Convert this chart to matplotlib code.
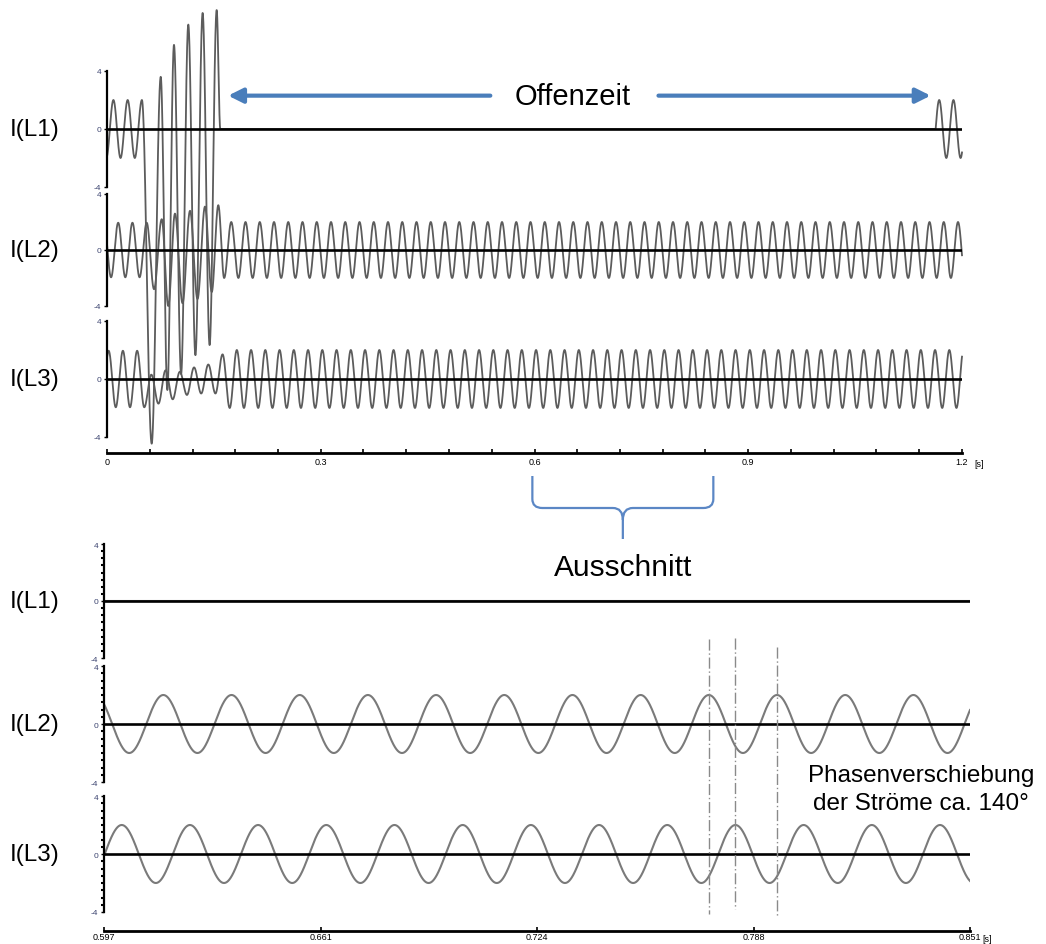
import numpy as np
import matplotlib
matplotlib.use("Agg")
import matplotlib.pyplot as plt
import matplotlib.transforms as mtransforms
from matplotlib.path import Path
from matplotlib.patches import PathPatch

plt.rcParams['font.family'] = ['Liberation Sans', 'DejaVu Sans']

# ---- data ----
F_NET = 50.0  # Hz
channels = ['I(L1)', 'I(L2)', 'I(L3)']

# overview and excerpt time ranges [s]
top_range = (0.0, 1.2)
top_ticks = [0.0, 0.3, 0.6, 0.9, 1.2]
top_ticklabels = ['0', '0.3', '0.6', '0.9', '1.2']
zoom_range = (0.597, 0.851)
zoom_ticklabels = ['0.597', '0.661', '0.724', '0.788', '0.851']

# steady state before the fault: amplitude, time of a positive peak
amp_pre = [2.0, 1.95, 1.95]
peak_pre = [0.009, 0.0157, 0.0023]
# steady state after the fault
amp_post = [2.0, 2.0, 2.0]
peak_post = [0.008, 0.0144, 0.0022]

# fault window: extrema (time [s], value) read from the overview
l1_ext_t = [0.049, 0.0627, 0.0754, 0.0847, 0.0940, 0.1040, 0.1141, 0.1241,
            0.1342, 0.1440, 0.1539, 0.159]
l1_ext_v = [2.0, -21.7, 3.6, -18.0, 5.8, -16.9, 7.2, -15.6, 8.0, -14.9, 8.2, 0.0]
l2_ext_t = [0.0557, 0.0660, 0.0768, 0.0860, 0.0954, 0.1060, 0.1165, 0.1270,
            0.1375, 0.1470, 0.1562, 0.1644, 0.1744]
l2_ext_v = [1.95, -2.8, 2.2, -4.0, 2.6, -3.8, 2.8, -3.5, 3.1, -3.0, 3.2, -2.0, 2.0]
l3_ext_t = [0.0523, 0.0622, 0.0722, 0.0822, 0.0922, 0.1022, 0.1122, 0.1222,
            0.1322, 0.1422, 0.1522, 0.1622, 0.1722]
l3_ext_v = [-1.95, 0.3, -1.7, 0.6, -1.4, 0.5, -1.1, 0.8, -1.0, 1.0, -1.0, 1.7, -2.0]

# L1 open time (Offenzeit)
l1_on = 1.163

# cursor lines in the excerpt (peaks L2, L3, L2)
cursor_t = [0.7744, 0.7822, 0.7944]

ext_t = [l1_ext_t, l2_ext_t, l3_ext_t]
ext_v = [l1_ext_v, l2_ext_v, l3_ext_v]


def half_cos(t, et, ev):
    et = np.asarray(et)
    ev = np.asarray(ev)
    i = np.clip(np.searchsorted(et, t) - 1, 0, len(et) - 2)
    u = np.clip((t - et[i]) / (et[i + 1] - et[i]), 0, 1)
    return ev[i] + (ev[i + 1] - ev[i]) * (1 - np.cos(np.pi * u)) / 2


def channel(t, k):
    pre = amp_pre[k] * np.cos(2 * np.pi * F_NET * (t - peak_pre[k]))
    post = amp_post[k] * np.cos(2 * np.pi * F_NET * (t - peak_post[k]))
    et = ext_t[k]
    y = np.where(t < et[0], pre,
                 np.where(t > et[-1], post, half_cos(t, et, ext_v[k])))
    if k == 0:
        y = np.where((t > et[-1]) & (t < l1_on), 0.0, y)
    return y


# ---- figure ----
W, H = 1046, 945
fig = plt.figure(figsize=(W / 100, H / 100), dpi=100)


def px_axes(x0, x1, ytop, ybot):
    return fig.add_axes([x0 / W, 1 - ybot / H, (x1 - x0) / W, (ybot - ytop) / H])


def style_channel(ax, xlim, minor=False):
    ax.set_xlim(xlim)
    ax.set_ylim(-4, 4)
    for s in ['top', 'right', 'bottom']:
        ax.spines[s].set_visible(False)
    ax.spines['left'].set_linewidth(1.6)
    ax.set_xticks([])
    ax.set_yticks([-4, 0, 4])
    ax.set_yticklabels(['-4', '0', '4'])
    ax.tick_params(axis='y', length=2, width=1, pad=2, labelsize=6,
                   labelcolor='#3c4470')
    if minor:
        ax.set_yticks(np.arange(-4, 4.01, 0.5), minor=True)
        ax.tick_params(axis='y', which='minor', length=2, width=1.5)
    ax.axhline(0, color='black', lw=1.9, zorder=3)
    ax.patch.set_visible(False)


def style_time(ax, xlim, ticks, labels, minor=None, pad=3):
    ax.set_xlim(xlim)
    ax.set_ylim(0, 1)
    for s in ['top', 'right', 'left']:
        ax.spines[s].set_visible(False)
    ax.spines['bottom'].set_linewidth(2)
    ax.set_yticks([])
    ax.set_xticks(ticks)
    ax.set_xticklabels(labels)
    if minor is not None:
        ax.set_xticks(minor, minor=True)
    ax.tick_params(axis='x', which='both', direction='in', length=3, width=1.2,
                   labelsize=6.5, pad=pad)
    ax.patch.set_visible(False)
    ax.annotate('[s]', xy=(1, 0), xycoords='axes fraction', xytext=(9, -pad - 1),
                textcoords='offset points', fontsize=6.5, va='top', ha='left')


# overview
t_top = np.linspace(top_range[0], top_range[1], 24001)
top_rows = [(72, 188), (195, 307), (322, 438)]
top_axes = []
for k, (yt, yb) in enumerate(top_rows):
    ax = px_axes(107, 962, yt, yb)
    style_channel(ax, top_range)
    ax.plot(t_top, channel(t_top, k), color='#5c5c5c', lw=1.3, clip_on=False,
            zorder=2)
    fig.text(10 / W, 1 - (yt + yb) / 2 / H, channels[k], fontsize=17.5,
             va='center', ha='left')
    top_axes.append(ax)

ax_tt = px_axes(107, 962, 440, 454)
style_time(ax_tt, top_range, top_ticks, top_ticklabels,
           minor=np.arange(0, 1.2001, 0.06))

# Offenzeit arrows
ax1 = top_axes[0]
arrow_kw = dict(arrowstyle='-|>', lw=3, color='#4a7ebb', mutation_scale=22,
                shrinkA=0, shrinkB=0)
ax1.annotate('', xy=(0.170, 2.3), xytext=(0.538, 2.3), arrowprops=arrow_kw,
             annotation_clip=False)
ax1.annotate('', xy=(1.156, 2.3), xytext=(0.774, 2.3), arrowprops=arrow_kw,
             annotation_clip=False)
ax1.text(0.653, 2.3, 'Offenzeit', fontsize=21, ha='center', va='center')

# brace marking the excerpt
tr = mtransforms.blended_transform_factory(ax_tt.transData, fig.transFigure)
fy = lambda ypx: 1 - ypx / H
xl, xr = zoom_range
xc = (xl + xr) / 2
r = 0.014
verts = [(xl, fy(477)), (xl, fy(500)), (xl, fy(509)), (xl + r, fy(509)),
         (xc - r, fy(509)), (xc, fy(509)), (xc, fy(521)), (xc, fy(540)),
         (xc, fy(521)), (xc, fy(509)), (xc + r, fy(509)),
         (xr - r, fy(509)), (xr, fy(509)), (xr, fy(500)), (xr, fy(477))]
codes = [Path.MOVETO, Path.LINETO, Path.CURVE3, Path.CURVE3,
         Path.LINETO, Path.CURVE3, Path.CURVE3, Path.LINETO,
         Path.MOVETO, Path.CURVE3, Path.CURVE3,
         Path.LINETO, Path.CURVE3, Path.CURVE3, Path.LINETO]
fig.add_artist(PathPatch(Path(verts, codes), transform=tr, fill=False,
                         edgecolor='#5b87c5', lw=1.6))
fig.text(xc, fy(568), 'Ausschnitt', transform=tr, fontsize=21.5,
         ha='center', va='center')

# excerpt
t_zoom = np.linspace(zoom_range[0], zoom_range[1], 6001)
zoom_rows = [(545, 659), (667, 783), (797, 913)]
zoom_axes = []
for k, (yt, yb) in enumerate(zoom_rows):
    ax = px_axes(104, 970, yt, yb)
    style_channel(ax, zoom_range, minor=True)
    ax.plot(t_zoom, channel(t_zoom, k), color='#7a7a7a', lw=1.5, zorder=2)
    fig.text(10 / W, 1 - (yt + yb) / 2 / H, channels[k], fontsize=17.5,
             va='center', ha='left')
    zoom_axes.append(ax)

ax_zt = px_axes(104, 970, 918, 932)
style_time(ax_zt, zoom_range, np.linspace(zoom_range[0], zoom_range[1], 5),
           zoom_ticklabels, pad=1)

# cursor lines
trz = mtransforms.blended_transform_factory(ax_zt.transData, fig.transFigure)
cursor_y = [(640, 915), (639, 910), (648, 918)]
for ct, (y0, y1) in zip(cursor_t, cursor_y):
    fig.add_artist(plt.Line2D([ct, ct], [fy(y0), fy(y1)], transform=trz,
                              color='#8a8a8a', lw=1.0,
                              linestyle=(0, (8, 2, 1, 2))))

fig.text(921 / W, fy(790), 'Phasenverschiebung\nder Ströme ca. 140°',
         fontsize=17.5, ha='center', va='center', linespacing=1.35)

fig.savefig('out.png', dpi=100)
